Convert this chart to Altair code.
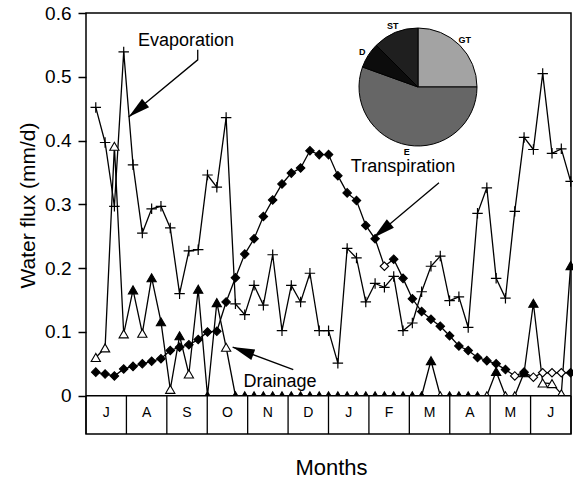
import math
import altair as alt
import pandas as pd

FONT = "Liberation Sans"

# --- data -------------------------------------------------------------
months = ["J", "A", "S", "O", "N", "D", "J", "F", "M", "A", "M", "J"]
weeks = list(range(52))

evaporation = [
    0.452, 0.397, 0.297, 0.539, 0.362, 0.255, 0.293, 0.297, 0.263, 0.160,
    0.227, 0.229, 0.346, 0.327, 0.436, 0.144, 0.127, 0.173, 0.142, 0.221,
    0.102, 0.173, 0.147, 0.192, 0.102, 0.102, 0.051, 0.231, 0.216, 0.147,
    0.176, 0.170, 0.187, 0.102, 0.114, 0.163, 0.203, 0.219, 0.149, 0.155,
    0.107, 0.286, 0.326, 0.184, 0.153, 0.289, 0.405, 0.386, 0.505, 0.380,
    0.387, 0.336,
]
transpiration = [
    0.037, 0.034, 0.031, 0.042, 0.046, 0.050, 0.054, 0.058, 0.071, 0.076,
    0.080, 0.088, 0.100, 0.101, 0.147, 0.185, 0.222, 0.246, 0.281, 0.307,
    0.332, 0.349, 0.357, 0.384, 0.378, 0.378, 0.345, 0.318, 0.306, 0.267,
    0.246, 0.203, 0.214, 0.184, 0.152, 0.132, 0.120, 0.109, 0.094, 0.078,
    0.071, 0.060, 0.055, 0.050, 0.041, 0.031, 0.037, 0.029, 0.036, 0.036,
    0.036, 0.036,
]
drainage = [
    0.060, 0.075, 0.391, 0.097, 0.166, 0.098, 0.185, 0.116, 0.010, 0.094,
    0.034, 0.167, 0.000, 0.146, 0.076, 0.000, 0.000, 0.000, 0.000, 0.000,
    0.000, 0.000, 0.000, 0.000, 0.000, 0.000, 0.000, 0.000, 0.000, 0.000,
    0.000, 0.000, 0.000, 0.000, 0.000, 0.000, 0.055, 0.000, 0.000, 0.000,
    0.000, 0.000, 0.000, 0.038, 0.000, 0.000, 0.036, 0.145, 0.020, 0.019,
    0.003, 0.204,
]
# weeks drawn with hollow markers
transpiration_open = [31, 45, 47, 48, 49, 50]
drainage_open = [0, 1, 2, 3, 5, 8, 10, 14, 37, 42, 44, 45, 48, 49, 50]

# water balance shares for the inset pie (clockwise from 12 o'clock)
pie_parts = ["GT", "E", "D", "ST"]
pie_shares = [25.0, 55.5, 7.0, 12.5]
pie_colors = ["#a3a3a3", "#666666", "#0c0c0c", "#1f1f1f"]

# series labels with their arrows, in data units (week, flux)
label_text = ["Evaporation", "Transpiration", "Drainage"]
label_week = [9.69, 33.0, 19.78]
label_flux = [0.556, 0.358, 0.022]
arrow_paths = {
    "Evaporation": [(10.95, 0.5423), (10.95, 0.5266), (3.53, 0.4368)],
    "Transpiration": [(36.86, 0.3339), (29.83, 0.2477)],
    "Drainage": [(21.21, 0.0408), (14.70, 0.0763)],
}

# --- layout -----------------------------------------------------------
W, H = 485, 421
X_DOM = [-1.05, 51.04]
Y_DOM = [-0.06, 0.6]          # negative band holds the month boxes
STRIP_BOTTOM = Y_DOM[0]
MONTH_LABEL_Y = -0.027

kx = W / (X_DOM[1] - X_DOM[0])
ky = H / (Y_DOM[1] - Y_DOM[0])

xs = alt.Scale(domain=X_DOM, nice=False, zero=False)
ys = alt.Scale(domain=Y_DOM, nice=False, zero=False)

x_axis = alt.Axis(
    labels=False, ticks=False, domain=False, grid=False,
    title="Months", titleFont=FONT, titleFontSize=22, titleFontWeight="normal",
    titleColor="black", titleX=245, titleY=33, titleAlign="center",
    titleBaseline="middle",
)
y_axis = alt.Axis(
    values=[0, 0.1, 0.2, 0.3, 0.4, 0.5, 0.6], format=".1~f",
    domain=False, grid=False, tickSize=8, tickWidth=1.5, tickColor="black",
    labelFont=FONT, labelFontSize=19, labelColor="black", labelPadding=7,
    title="Water flux (mm/d)", titleFont=FONT, titleFontSize=21,
    titleFontWeight="normal", titleColor="black", titleX=-58, titleY=192,
    titleAngle=270, titleAlign="center", titleBaseline="middle",
)


def xq(field):
    return alt.X(field, type="quantitative", scale=xs, axis=x_axis)


def yq(field):
    return alt.Y(field, type="quantitative", scale=ys, axis=y_axis)


# --- tables -----------------------------------------------------------
series_df = pd.DataFrame(
    [dict(week=w, value=v, series="Evaporation") for w, v in zip(weeks, evaporation)]
    + [dict(week=w, value=v, series="Transpiration") for w, v in zip(weeks, transpiration)]
    + [dict(week=w, value=v, series="Drainage") for w, v in zip(weeks, drainage)]
)
evap_df = pd.DataFrame({"week": weeks, "value": evaporation})
trans_df = pd.DataFrame({
    "week": weeks, "value": transpiration,
    "fillc": ["white" if w in transpiration_open else "black" for w in weeks],
})
drain_df = pd.DataFrame({
    "week": weeks, "value": drainage,
    "fillc": ["white" if w in drainage_open else "black" for w in weeks],
})

step = (X_DOM[1] - X_DOM[0]) / len(months)
bounds_df = pd.DataFrame({
    "week": [X_DOM[0] + k * step for k in range(len(months) + 1)],
    "value": STRIP_BOTTOM, "hi": 0.0,
})
month_df = pd.DataFrame({
    "week": [X_DOM[0] + (k + 0.5) * step for k in range(len(months))],
    "value": MONTH_LABEL_Y, "name": months,
})
cover_df = pd.DataFrame({"week": [X_DOM[0] + 0.15], "x1": [X_DOM[1] - 0.15],
                         "value": [-0.013], "y1": [0.0]})
zero_df = pd.DataFrame({"value": [0.0]})

pie_df = pd.DataFrame({"part": pie_parts, "share": pie_shares,
                       "col": pie_colors, "idx": list(range(len(pie_parts)))})

label_df = pd.DataFrame({"text": label_text, "week": label_week, "value": label_flux})
arrow_rows, head_rows = [], []
for name, pts in arrow_paths.items():
    for s, (w, v) in enumerate(pts):
        arrow_rows.append(dict(arrow=name, seq=s, week=w, value=v))
    (w0, v0), (w1, v1) = pts[-2], pts[-1]
    dx = (w1 - w0) * kx
    dy = -(v1 - v0) * ky
    ang = math.degrees(math.atan2(dx, -dy)) % 360
    head_rows.append(dict(week=w1, value=v1, ang=ang))
arrow_df = pd.DataFrame(arrow_rows)
head_df = pd.DataFrame(head_rows)

# --- marks ------------------------------------------------------------
pie = alt.Chart(pie_df).mark_arc(radius=59, stroke="black", strokeWidth=1).encode(
    theta=alt.Theta("share:Q", stack=True),
    fill=alt.Fill("col:N", scale=None),
    order=alt.Order("idx:Q"),
    x=alt.value(332), y=alt.value(74),
)
pie_labels = alt.Chart(pie_df).mark_text(
    radius=66, font=FONT, fontSize=9, fontWeight="bold", color="black"
).encode(
    theta=alt.Theta("share:Q", stack=True),
    text="part:N",
    order=alt.Order("idx:Q"),
    x=alt.value(332), y=alt.value(74),
)

lines = alt.Chart(series_df).mark_line(color="black", strokeWidth=1.3).encode(
    x=xq("week"), y=yq("value"), detail="series:N",
)
evap_pts = alt.Chart(evap_df).mark_point(
    shape="M-1,0L1,0M0,-1L0,1", size=110, filled=False, color="black",
    strokeWidth=1.2, opacity=1,
).encode(x=xq("week"), y=yq("value"))
trans_pts = alt.Chart(trans_df).mark_point(
    shape="diamond", size=72, filled=True, stroke="black", strokeWidth=1.1, opacity=1,
).encode(x=xq("week"), y=yq("value"), fill=alt.Fill("fillc:N", scale=None))
drain_pts = alt.Chart(drain_df).mark_point(
    shape="triangle-up", size=85, filled=True, stroke="black", strokeWidth=1.1, opacity=1,
).encode(x=xq("week"), y=yq("value"), fill=alt.Fill("fillc:N", scale=None))

cover = alt.Chart(cover_df).mark_rect(color="white").encode(
    x=xq("week"), x2="x1", y=yq("value"), y2="y1"
)
month_rules = alt.Chart(bounds_df).mark_rule(color="black", strokeWidth=1.3).encode(
    x=xq("week"), y=yq("value"), y2="hi"
)
month_text = alt.Chart(month_df).mark_text(
    font=FONT, fontSize=14, color="black", baseline="middle"
).encode(x=xq("week"), y=yq("value"), text="name:N")
zero_rule = alt.Chart(zero_df).mark_rule(color="black", strokeWidth=1.5).encode(
    y=yq("value")
)

labels = alt.Chart(label_df).mark_text(
    font=FONT, fontSize=18, color="black", align="center", baseline="middle"
).encode(x=xq("week"), y=yq("value"), text="text:N")
arrows = alt.Chart(arrow_df).mark_line(color="black", strokeWidth=1.3).encode(
    x=xq("week"), y=yq("value"), detail="arrow:N", order="seq:Q"
)
heads = alt.Chart(head_df).mark_point(
    shape="M0,0L0.5,2L-0.5,2Z", size=484, filled=True, color="black",
    opacity=1, strokeWidth=0,
).encode(x=xq("week"), y=yq("value"), angle=alt.Angle("ang:Q", scale=None))

chart = alt.layer(
    lines, pie, pie_labels, evap_pts, trans_pts, drain_pts,
    cover, month_rules, month_text, zero_rule, labels, arrows, heads,
).properties(
    width=W, height=H,
    autosize=alt.AutoSizeParams(type="none"),
    padding={"left": 86, "top": 13, "right": 2, "bottom": 44},
    background="white",
).configure_view(stroke="black", strokeWidth=1.5)

chart.save("out.html", embed_options={"renderer": "svg", "actions": False})
